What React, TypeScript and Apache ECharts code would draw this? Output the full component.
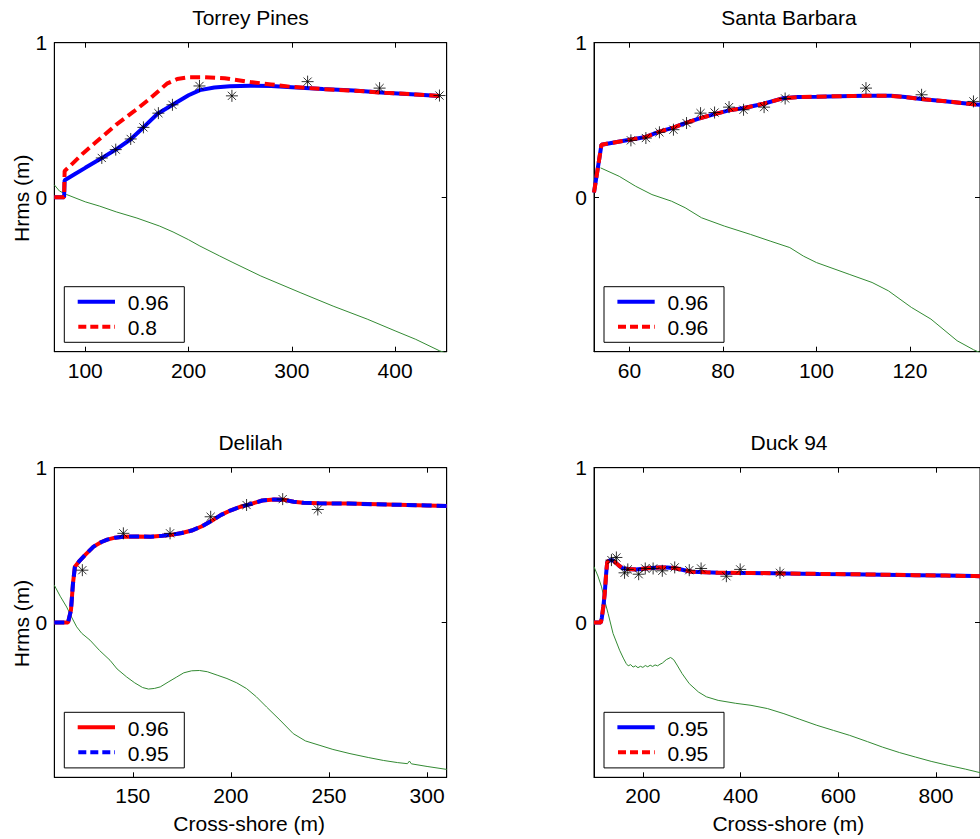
import React, { useEffect, useRef } from 'react';
import * as echarts from 'echarts';

type P = [number, number];

// ---------- text ----------
const panelTitles = ['Torrey Pines', 'Santa Barbara', 'Delilah', 'Duck 94'];
const yAxisTitle = 'Hrms (m)';
const xAxisTitle = 'Cross-shore (m)';

// ---------- axes ----------
const xRanges: P[] = [[70, 450], [52.4, 135], [110, 310], [100, 890]];
const xTicks: number[][] = [
  [100, 200, 300, 400],
  [60, 80, 100, 120],
  [150, 200, 250, 300],
  [200, 400, 600, 800],
];
const yRange: P = [-1, 1];
const yTicks = [0, 1];

// ---------- legend labels (solid, dashed) ----------
const legendLabels: [string, string][] = [
  ['0.96', '0.8'],
  ['0.96', '0.96'],
  ['0.96', '0.95'],
  ['0.95', '0.95'],
];
const solidColors = ['#0000ff', '#0000ff', '#ff0000', '#0000ff'];
const dashedColors = ['#ff0000', '#ff0000', '#0000ff', '#ff0000'];

// ---------- Torrey Pines ----------
const torreySolid: P[] = [
  [70, 0], [79.5, 0], [80, 0.11], [90, 0.15], [100, 0.19], [114, 0.245], [130, 0.31],
  [144, 0.375], [156, 0.45], [170, 0.54], [185, 0.6], [200, 0.66], [211, 0.693],
  [225, 0.71], [240, 0.718], [260, 0.722], [280, 0.72], [300, 0.712], [330, 0.7],
  [360, 0.69], [390, 0.676], [420, 0.665], [443, 0.655],
];
const torreyDashed: P[] = [
  [70, 0], [79.5, 0], [80, 0.17], [85, 0.2], [98, 0.285], [111, 0.36], [130, 0.47],
  [147, 0.555], [163, 0.64], [179, 0.735], [189, 0.765], [201, 0.777], [215, 0.777],
  [235, 0.77], [260, 0.745], [280, 0.73], [300, 0.714], [330, 0.7], [360, 0.69],
  [390, 0.676], [420, 0.665], [443, 0.655],
];
const torreyObs: P[] = [
  [116, 0.254], [129.5, 0.308], [144, 0.377], [156.3, 0.452], [170.8, 0.544],
  [184.4, 0.598], [210.6, 0.72], [242, 0.656], [315.3, 0.748], [385, 0.706], [443, 0.658],
];
const torreyDepth: P[] = [
  [70, 0.08], [75, 0.04], [82, 0.017], [100, -0.03], [114, -0.058], [130, -0.095],
  [150, -0.135], [172, -0.187], [185, -0.225], [200, -0.275], [211, -0.316],
  [230, -0.38], [243, -0.423], [270, -0.51], [308, -0.617], [340, -0.705],
  [373, -0.789], [400, -0.865], [420, -0.92], [443, -0.994], [450, -1.01],
];

// ---------- Santa Barbara ----------
const sbSolid: P[] = [
  [52.4, 0.03], [54, 0.34], [60, 0.372], [63.5, 0.39], [66.4, 0.424], [69.4, 0.45],
  [71.9, 0.48], [75, 0.51], [78.2, 0.538], [81.3, 0.562], [84.5, 0.577], [88.7, 0.605],
  [92.9, 0.641], [96, 0.648], [100, 0.65], [105, 0.654], [110.5, 0.656], [116, 0.656],
  [119, 0.648], [122.4, 0.635], [128, 0.62], [133.6, 0.602], [135, 0.598],
];
const sbDashed: P[] = sbSolid.map((p) => [p[0], p[1]] as P);
const sbObs: P[] = [
  [60.3, 0.368], [63.5, 0.383], [66.4, 0.42], [69.4, 0.437], [72.2, 0.48], [75.2, 0.544],
  [78.2, 0.548], [81.3, 0.583], [84.4, 0.566], [88.8, 0.583], [93.3, 0.639],
  [110.6, 0.706], [122.5, 0.663], [133.6, 0.62],
];
const sbDepth: P[] = [
  [53.8, 0.19], [57.8, 0.135], [61.3, 0.071], [64.8, 0.017], [69, -0.026], [71.9, -0.068],
  [75.4, -0.133], [80.3, -0.187], [85.9, -0.241], [90.1, -0.284], [94.3, -0.326],
  [97.2, -0.381], [100, -0.423], [107, -0.499], [111.9, -0.552], [115.4, -0.606],
  [120.3, -0.713], [124.5, -0.789], [130.1, -0.929], [133.6, -0.987], [136, -1.02],
];

// ---------- Delilah ----------
const delSolid: P[] = [
  [110, 0], [117, 0], [118.5, 0.08], [119.5, 0.25], [120.5, 0.36], [123, 0.4], [126, 0.44],
  [130, 0.49], [134, 0.52], [137, 0.535], [141, 0.548], [145, 0.554], [152, 0.556],
  [159, 0.554], [165, 0.56], [170, 0.567], [175, 0.578], [180, 0.594], [185, 0.62],
  [190, 0.655], [195, 0.695], [200, 0.725], [205, 0.748], [210, 0.765], [216, 0.788],
  [222, 0.795], [227, 0.793], [232, 0.78], [237, 0.773], [245, 0.77], [260, 0.768],
  [280, 0.762], [300, 0.756], [310, 0.752],
];
const delDashed: P[] = delSolid.map((p) => [p[0], p[1]] as P);
const delObs: P[] = [
  [124.3, 0.338], [145.2, 0.576], [169, 0.576], [189.7, 0.683], [208, 0.759],
  [226.4, 0.797], [244.3, 0.73],
];
const delDepth: P[] = [
  [110, 0.241], [113, 0.17], [116.3, 0.1], [119, 0.03], [121.4, -0.028], [124, -0.07],
  [128.2, -0.114], [133, -0.18], [138.4, -0.244], [142, -0.3], [146.9, -0.352],
  [151, -0.39], [155, -0.42], [158, -0.43], [161, -0.426], [164, -0.416], [168, -0.385],
  [172.4, -0.352], [176, -0.325], [180, -0.312], [184, -0.31], [188, -0.318],
  [193, -0.34], [198, -0.362], [203, -0.39], [208, -0.427], [213, -0.48],
  [218.2, -0.546], [225, -0.63], [231.8, -0.718], [238, -0.765], [245.4, -0.794],
  [252, -0.82], [260.7, -0.847], [270, -0.872], [277.7, -0.891], [285, -0.905],
  [290, -0.912], [291, -0.895], [292, -0.913], [300, -0.93], [310, -0.949],
];

// ---------- Duck 94 ----------
const duckSolid: P[] = [
  [100, 0], [114, 0], [116, 0.03], [119, 0.1], [122, 0.19], [125, 0.32], [127, 0.39],
  [131, 0.4], [136, 0.404], [141, 0.395], [146, 0.382], [152, 0.365], [159, 0.35],
  [170, 0.345], [186, 0.343], [210, 0.35], [233, 0.356], [250, 0.356], [267, 0.35],
  [285, 0.338], [300, 0.328], [330, 0.324], [354, 0.321], [420, 0.32], [489, 0.317],
  [560, 0.314], [623, 0.312], [690, 0.309], [757, 0.306], [820, 0.303], [878, 0.3],
  [890, 0.299],
];
const duckDashed: P[] = duckSolid.map((p) => [p[0], p[1]] as P);
const duckObs: P[] = [
  [135.7, 0.403], [145.8, 0.42], [162.5, 0.321], [169.2, 0.343], [191.4, 0.312],
  [204.9, 0.349], [221, 0.349], [239.8, 0.334], [265.2, 0.356], [295, 0.338],
  [319.2, 0.349], [370.9, 0.299], [399.2, 0.343], [480.6, 0.321],
];
const duckDepth: P[] = [
  [100, 0.36], [108, 0.3], [115.5, 0.23], [122, 0.14], [128.9, 0.058], [139, -0.071],
  [152.4, -0.179], [160, -0.23], [165.9, -0.265], [170, -0.28], [175, -0.272],
  [180, -0.288], [185, -0.28], [190, -0.292], [195, -0.283], [200, -0.29], [205, -0.278],
  [210, -0.286], [215, -0.276], [220, -0.284], [225, -0.274], [230, -0.28], [235, -0.27],
  [240, -0.262], [248, -0.24], [256.7, -0.226], [263, -0.24], [270, -0.275],
  [280.3, -0.33], [295, -0.395], [313.8, -0.449], [330, -0.48], [354.1, -0.503],
  [390, -0.522], [421.3, -0.535], [455, -0.556], [488.7, -0.589], [520, -0.624],
  [556, -0.664], [590, -0.697], [623.2, -0.729], [660, -0.77], [690.5, -0.805],
  [725, -0.84], [757.7, -0.869], [790, -0.897], [825, -0.923], [860, -0.947], [890, -0.97],
];

const solidLines = [torreySolid, sbSolid, delSolid, duckSolid];
const dashedLines = [torreyDashed, sbDashed, delDashed, duckDashed];
const observations = [torreyObs, sbObs, delObs, duckObs];
const depthLines = [torreyDepth, sbDepth, delDepth, duckDepth];

// ---------- layout ----------
const FONT = '"Liberation Sans", Arial, Helvetica, sans-serif';
const FS = 21;
const gridLefts = [54.3, 594, 54.3, 594];
const gridTops = [42.7, 42.7, 467.7, 467.7];
const GW = 392.4;
const gridHeights = [309, 309, 309.6, 309.6];
const ASTERISK = 'path://M5,0L5,10M0,5L10,5M1.6,1.6L8.4,8.4M1.6,8.4L8.4,1.6';

function buildOption(): any {
  const grids: any[] = [];
  const xAxes: any[] = [];
  const yAxes: any[] = [];
  const series: any[] = [];
  const graphics: any[] = [];

  for (let i = 0; i < 4; i++) {
    grids.push({
      left: gridLefts[i],
      top: gridTops[i],
      width: GW,
      height: gridHeights[i],
      show: true,
      borderColor: '#000',
      borderWidth: 1,
      backgroundColor: '#fff',
      containLabel: false,
    });
    const tickStyle = { show: true, inside: true, length: 5, lineStyle: { color: '#000', width: 1 } };
    xAxes.push({
      type: 'value',
      gridIndex: i,
      position: 'bottom',
      min: xRanges[i][0],
      max: xRanges[i][1],
      axisLine: { show: true, onZero: false, lineStyle: { color: '#000', width: 1 } },
      axisTick: { ...tickStyle, customValues: xTicks[i] },
      axisLabel: {
        show: true,
        customValues: xTicks[i],
        formatter: (v: number) => String(v),
        margin: 8,
        color: '#000',
        fontSize: FS,
        fontFamily: FONT,
      },
      splitLine: { show: false },
    });
    xAxes.push({
      type: 'value',
      gridIndex: i,
      position: 'top',
      min: xRanges[i][0],
      max: xRanges[i][1],
      axisLine: { show: true, onZero: false, lineStyle: { color: '#000', width: 1 } },
      axisTick: { ...tickStyle, customValues: xTicks[i] },
      axisLabel: { show: false },
      splitLine: { show: false },
    });
    yAxes.push({
      type: 'value',
      gridIndex: i,
      position: 'left',
      min: yRange[0],
      max: yRange[1],
      axisLine: { show: true, onZero: false, lineStyle: { color: '#000', width: 1 } },
      axisTick: { ...tickStyle, customValues: yTicks },
      axisLabel: {
        show: true,
        customValues: yTicks,
        formatter: (v: number) => String(v),
        margin: 7,
        color: '#000',
        fontSize: FS,
        fontFamily: FONT,
      },
      splitLine: { show: false },
    });
    yAxes.push({
      type: 'value',
      gridIndex: i,
      position: 'right',
      min: yRange[0],
      max: yRange[1],
      axisLine: { show: true, onZero: false, lineStyle: { color: '#000', width: 1 } },
      axisTick: { ...tickStyle, customValues: yTicks },
      axisLabel: { show: false },
      splitLine: { show: false },
    });

    const xi = 2 * i;
    const yi = 2 * i;
    series.push({
      name: panelTitles[i] + ' depth',
      type: 'line',
      xAxisIndex: xi,
      yAxisIndex: yi,
      data: depthLines[i],
      symbol: 'none',
      lineStyle: { color: '#338a33', width: 1 },
      z: 1,
    });
    series.push({
      name: panelTitles[i] + ' ' + legendLabels[i][0],
      type: 'line',
      xAxisIndex: xi,
      yAxisIndex: yi,
      data: solidLines[i],
      symbol: 'none',
      lineStyle: { color: solidColors[i], width: 4 },
      z: 2,
    });
    series.push({
      name: panelTitles[i] + ' ' + legendLabels[i][1],
      type: 'line',
      xAxisIndex: xi,
      yAxisIndex: yi,
      data: dashedLines[i],
      symbol: 'none',
      lineStyle: { color: dashedColors[i], width: 4, type: [10, 5] },
      z: 3,
    });
    series.push({
      name: panelTitles[i] + ' observed',
      type: 'scatter',
      xAxisIndex: xi,
      yAxisIndex: yi,
      data: observations[i],
      symbol: ASTERISK,
      symbolSize: 12,
      itemStyle: { color: '#000', borderColor: '#000', borderWidth: 1 },
      z: 4,
    });

    const isRight = i % 2 === 1;
    const titleX = isRight ? 789 : 250.5;
    graphics.push({
      type: 'text',
      x: titleX,
      y: gridTops[i] - 25,
      z: 100,
      style: {
        text: panelTitles[i],
        fontSize: FS,
        fontFamily: FONT,
        fill: '#000',
        align: 'center',
        verticalAlign: 'middle',
      },
    });
    if (!isRight) {
      graphics.push({
        type: 'text',
        x: 21.7,
        y: gridTops[i] + gridHeights[i] / 2 + 1,
        rotation: Math.PI / 2,
        z: 100,
        style: {
          text: yAxisTitle,
          fontSize: FS,
          fontFamily: FONT,
          fill: '#000',
          align: 'center',
          verticalAlign: 'middle',
        },
      });
    }
    if (i >= 2) {
      graphics.push({
        type: 'text',
        x: isRight ? 788.3 : 249.2,
        y: 823.3,
        z: 100,
        style: {
          text: xAxisTitle,
          fontSize: FS,
          fontFamily: FONT,
          fill: '#000',
          align: 'center',
          verticalAlign: 'middle',
        },
      });
    }

    // legend box
    const bx = gridLefts[i] + 10;
    const by = gridTops[i] + gridHeights[i] - 65;
    const rows = [by + 15, by + 40];
    graphics.push({
      type: 'rect',
      z: 100,
      shape: { x: bx, y: by, width: 120, height: 55.6 },
      style: { fill: '#fff', stroke: '#000', lineWidth: 1 },
    });
    graphics.push({
      type: 'line',
      z: 101,
      shape: { x1: bx + 13.4, y1: rows[0], x2: bx + 50.7, y2: rows[0] },
      style: { stroke: solidColors[i], lineWidth: 4 },
    });
    graphics.push({
      type: 'line',
      z: 101,
      shape: { x1: bx + 14, y1: rows[1], x2: bx + 50.7, y2: rows[1] },
      style: { stroke: dashedColors[i], lineWidth: 4, lineDash: [8, 4] },
    });
    for (let r = 0; r < 2; r++) {
      graphics.push({
        type: 'text',
        x: bx + 63.4,
        y: rows[r] + 0.8,
        z: 101,
        style: {
          text: legendLabels[i][r],
          fontSize: FS,
          fontFamily: FONT,
          fill: '#000',
          align: 'left',
          verticalAlign: 'middle',
        },
      });
    }
  }

  return {
    animation: false,
    backgroundColor: '#fff',
    grid: grids,
    xAxis: xAxes,
    yAxis: yAxes,
    series,
    graphic: { elements: graphics },
  };
}

export default function App() {
  const ref = useRef<HTMLDivElement>(null);
  useEffect(() => {
    if (!ref.current) return;
    const chart = echarts.init(ref.current, undefined, { renderer: 'svg' });
    chart.setOption(buildOption());
    return () => chart.dispose();
  }, []);
  return (
    <div
      ref={ref}
      style={{ position: 'fixed', left: 0, top: 0, width: 980, height: 839, background: '#fff' }}
    />
  );
}
